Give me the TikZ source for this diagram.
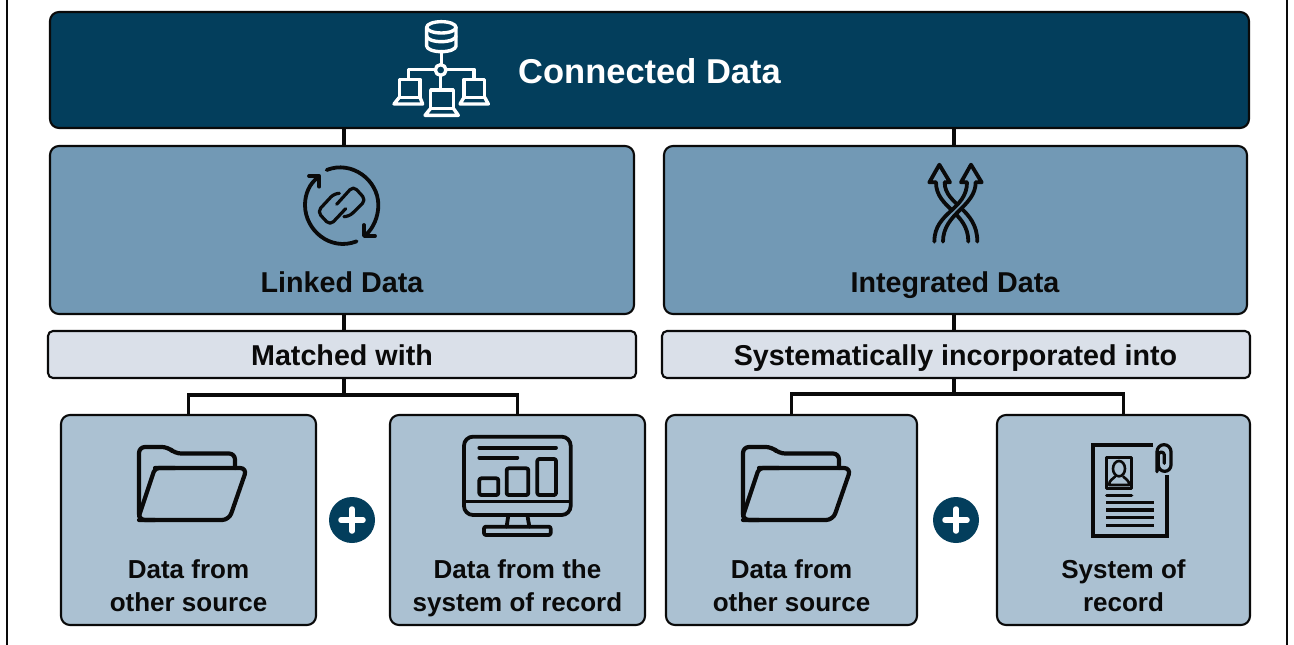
\documentclass[tikz,border=0pt]{standalone}
\usepackage{fontspec}
\setmainfont{Liberation Sans}
\usetikzlibrary{calc}
\definecolor{cdark}{HTML}{033E5C}
\definecolor{cmid}{HTML}{7299B5}
\definecolor{clight}{HTML}{ABC1D2}
\definecolor{cpale}{HTML}{DAE0E9}
\definecolor{cink}{HTML}{0A0A0A}
\tikzset{
  x=1pt,y=-1pt,
  boxbase/.style={draw=cink,line width=2.1pt,rounded corners=9pt,inner sep=0pt,outer sep=0pt,anchor=north west},
  topbox/.style={boxbase,fill=cdark},
  midbox/.style={boxbase,fill=cmid},
  barbox/.style={boxbase,fill=cpale,rounded corners=5pt},
  lowbox/.style={boxbase,fill=clight},
  link/.style={draw=cink,line width=3.2pt},
  title/.style={font=\bfseries\fontsize{34.5}{38}\selectfont,text=white,anchor=base},
  head/.style={font=\bfseries\fontsize{28.7}{32}\selectfont,text=cink,anchor=base},
  label/.style={font=\bfseries\fontsize{26}{33}\selectfont,text=cink,align=center,anchor=base},
  plusdisc/.style={circle,fill=cdark,minimum size=46pt,inner sep=0pt},
  icon/.style={line width=3.8pt,draw=cink,line cap=round,line join=round},
  wicon/.style={line width=3.4pt,draw=white,line cap=round,line join=round},
  zoomed/.style={x=.33333pt,y=-.33333pt},
  folder/.pic={
    \draw[icon,line width=4.2pt,rounded corners=6pt] (155,520) -- (139,520) -- (139,447) -- (168,447) -- (175,453.5) -- (235,453.5) -- (235,468);
    \draw[icon,line width=4.2pt,rounded corners=7pt] (155,468) -- (247,468) -- (229,520) -- (139,520);
    \draw[icon,line width=4.2pt,rounded corners=4pt] (139,516) -- (155,468) -- (175,468);
  }
}
\begin{document}
\begin{tikzpicture}
\useasboundingbox (0,0) rectangle (1294,645);
\fill[white] (0,0) rectangle (1294,645);
\draw[line width=2.2pt,draw=cink] (7,0) -- (7,645);
\draw[line width=2.2pt,draw=cink] (1287,0) -- (1287,645);

% boxes
\node[topbox,minimum width=1199pt,minimum height=116pt] (top) at (50,12) {};
\node[midbox,minimum width=584pt,minimum height=168pt] (linked) at (50,146) {};
\node[midbox,minimum width=583pt,minimum height=168pt] (integrated) at (664,146) {};
\node[barbox,minimum width=588pt,minimum height=47pt] (matched) at (48,331) {};
\node[barbox,minimum width=588pt,minimum height=47pt] (system) at (662,331) {};
\node[lowbox,minimum width=255pt,minimum height=210pt] (otherA) at (61,415) {};
\node[lowbox,minimum width=255pt,minimum height=210pt] (recordA) at (390,415) {};
\node[lowbox,minimum width=251pt,minimum height=210pt] (otherB) at (666,415) {};
\node[lowbox,minimum width=253pt,minimum height=210pt] (recordB) at (997,415) {};

% connectors
\coordinate (busL) at (344,395);
\coordinate (busR) at (954,394);
\draw[link] (top.south -| busL) -- (linked.north -| busL);
\draw[link] (top.south -| busR) -- (integrated.north -| busR);
\draw[link] (linked.south -| busL) -- (matched.north -| busL);
\draw[link] (integrated.south -| busR) -- (system.north -| busR);
\draw[link] (matched.south -| busL) -- (busL);
\draw[link] (system.south -| busR) -- (busR);
\draw[link] (otherA.north) |- (busL) -| (recordA.north);
\draw[link] (otherB.north) |- (busR) -| (recordB.north);

% labels
\node[title] (tConnected) at (649.5,83) {Connected Data};
\node[head] (tLinked) at (342,292) {Linked Data};
\node[head] (tIntegrated) at (955,292) {Integrated Data};
\node[head] (tMatched) at (342,365) {Matched with};
\node[head] (tSystem) at (955.5,365) {Systematically incorporated into};
\node[label] (tA) at (188.5,611) {Data from\\other source};
\node[label] (tB) at (517.5,611) {Data from the\\system of record};
\node[label] (tC) at (791.5,611) {Data from\\other source};
\node[label] (tD) at (1123.5,611) {System of\\record};

% plus
\node[plusdisc] (plusL) at (352,520) {};
\node[plusdisc] (plusR) at (956,520) {};
\foreach \p in {plusL,plusR}{
  \draw[white,line width=5.5pt,line cap=round] ($(\p)+(-11,0)$) -- ($(\p)+(11,0)$);
  \draw[white,line width=5.5pt,line cap=round] ($(\p)+(0,-11)$) -- ($(\p)+(0,11)$);
}

% network icon
\begin{scope}[shift={(370,0)},zoomed]
  \draw[wicon] (170,82) arc[start angle=180,end angle=540,x radius=44,y radius=-17];
  \draw[wicon] (170,82) -- (170,138) arc[start angle=180,end angle=360,x radius=44,y radius=-17] -- (258,82);
  \draw[wicon] (170,108) arc[start angle=180,end angle=360,x radius=44,y radius=-17];
  \draw[wicon] (214,155) -- (214,194);
  \draw[wicon] (212,210) circle[radius=16];
  \draw[wicon] (196,208) -- (115,208) -- (115,235);
  \draw[wicon] (228,208) -- (312,208) -- (312,235);
  \draw[wicon] (212,226) -- (212,268);
  \draw[wicon] (88,238) rectangle (150,292);
  \draw[wicon] (88,292) -- (72,312) -- (158,312) -- (150,292);
  \draw[wicon] (182,270) rectangle (250,325);
  \draw[wicon] (182,325) -- (165,346) -- (265,346) -- (250,325);
  \draw[wicon] (282,238) rectangle (344,292);
  \draw[wicon] (282,292) -- (270,312) -- (355,312) -- (344,292);
\end{scope}

% link icon
\begin{scope}[shift={(280,150)},zoomed]
  \draw[icon] (140,60) .. controls (215,30) and (295,90) .. (295,165) .. controls (295,200) and (280,235) .. (257,255);
  \draw[icon] (230,274) .. controls (150,305) and (75,240) .. (75,165) .. controls (75,130) and (90,100) .. (112,84);
  \draw[icon] (87,78) -- (118,78) -- (118,110);
  \draw[icon] (252,225) -- (252,258) -- (285,258);
  \draw[icon,line width=3.2pt,rounded corners=5pt] (178,130) -- (163,130) -- (112,185) -- (150,226) -- (197,176);
  \draw[icon,line width=3.2pt,rounded corners=5pt] (192,200) -- (207,200) -- (258,150) -- (220,108) -- (170,163);
\end{scope}

% crossing arrows icon
\begin{scope}[shift={(900,150)},zoomed]
  \draw[icon] (108,97) .. controls (108,175) and (205,185) .. (205,275);
  \draw[icon] (134,97) .. controls (134,165) and (232,175) .. (232,275);
  \fill[cmid] (201,97) .. controls (201,180) and (103,185) .. (103,275) -- (129,275) .. controls (129,190) and (227,170) .. (227,97) -- cycle;
  \draw[icon] (201,97) .. controls (201,180) and (103,185) .. (103,275);
  \draw[icon] (227,97) .. controls (227,170) and (129,190) .. (129,275);
  \draw[icon] (108,97) -- (88,97) -- (118,44) -- (150,97) -- (134,97);
  \draw[icon] (201,97) -- (183,97) -- (213,44) -- (245,97) -- (227,97);
\end{scope}

% folders
\pic at (0,0) {folder};
\pic at (604,0) {folder};

% monitor icon
\begin{scope}[shift={(440,425)},zoomed]
  \draw[icon,rounded corners=9pt] (72,35) rectangle (392,270);
  \draw[icon,line width=2.6pt] (72,230) -- (392,230);
  \draw[icon] (118,68) -- (348,68);
  \draw[icon] (118,98) -- (232,98);
  \draw[icon,rounded corners=2pt] (118,160) rectangle (175,210);
  \draw[icon,rounded corners=2pt] (200,130) rectangle (265,210);
  \draw[icon,rounded corners=2pt] (292,102) rectangle (348,210);
  \draw[icon] (205,270) -- (200,305);
  \draw[icon] (262,270) -- (268,305);
  \draw[icon,rounded corners=2pt] (132,305) rectangle (332,330);
\end{scope}

% document icon
\begin{scope}[shift={(1070,430)},zoomed]
  \draw[icon,line cap=butt,line join=miter,line width=3.8pt] (250,44) -- (68,44) -- (68,318) -- (292,318) -- (292,135);
  \draw[icon,line width=2.8pt] (110,82) rectangle (185,175);
  \draw[icon,line width=2.6pt] (147,116) ellipse[x radius=18,y radius=23];
  \draw[icon,line width=2.6pt] (117,165) .. controls (118,150) and (128,148) .. (135,140) (160,140) .. controls (167,148) and (177,150) .. (178,165) -- (117,165);
  \draw[icon,line width=3.2pt] (110,196) -- (185,196);
  \draw[icon,line width=3.2pt,line cap=butt] (108,217) -- (252,217);
  \draw[icon,line width=3.2pt,line cap=butt] (108,240) -- (252,240);
  \draw[icon,line width=3.2pt,line cap=butt] (108,263) -- (252,263);
  \draw[icon,line width=3.2pt,line cap=butt] (108,286) -- (252,286);
  \draw[icon,line width=3.2pt] (261,125) -- (261,65) arc[start angle=180,end angle=0,x radius=21,y radius=-21] -- (303,105) arc[start angle=0,end angle=-180,x radius=19,y radius=-19] -- (265,75) arc[start angle=180,end angle=0,x radius=9,y radius=-9] -- (283,100);
\end{scope}
\end{tikzpicture}
\end{document}
